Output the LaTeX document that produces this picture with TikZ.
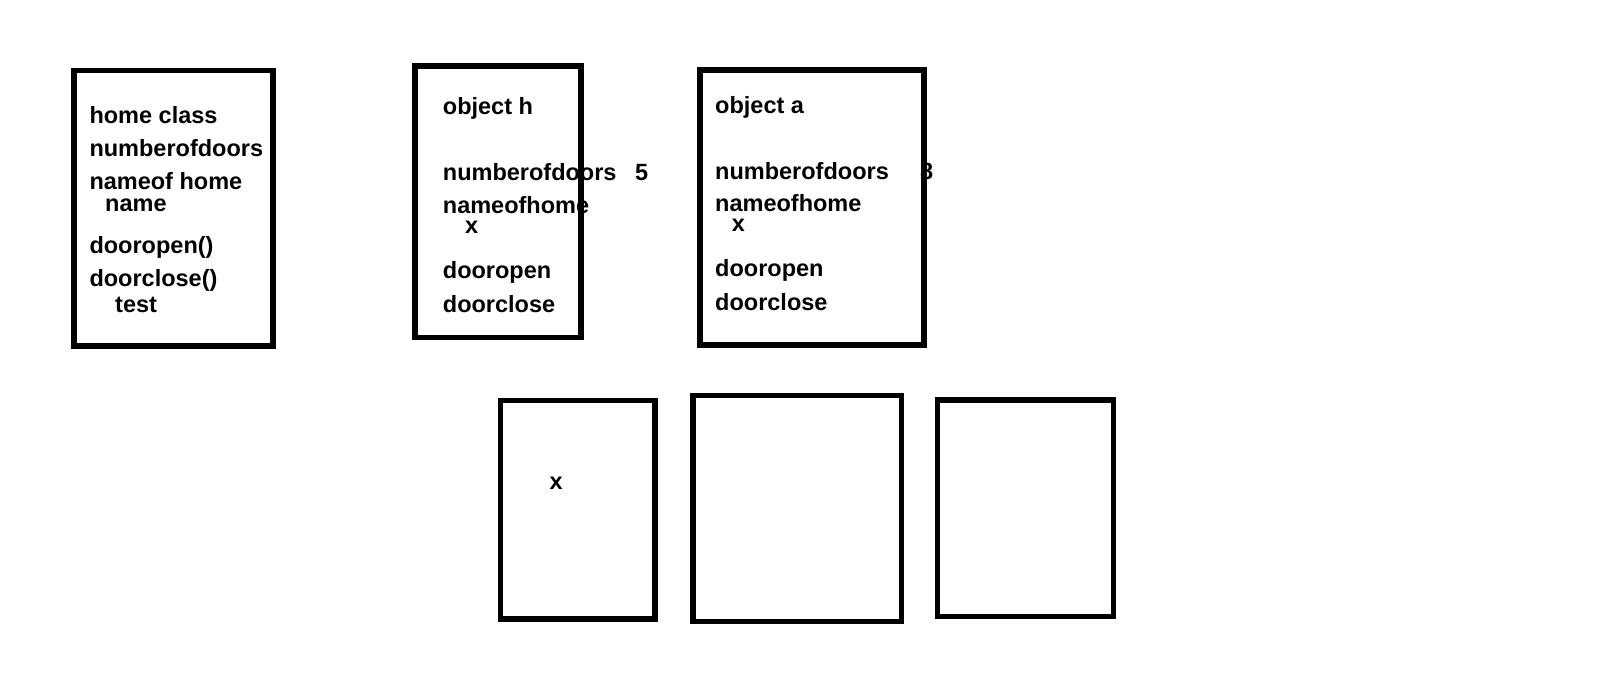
\documentclass[tikz,border=0pt]{standalone}
\usepackage{fontspec}
\setmainfont{Liberation Sans}
\usepackage{tikz}
\usetikzlibrary{backgrounds}

\begin{document}
\begin{tikzpicture}[
    x=1pt, y=-1pt,
    card/.style={draw, line width=5.2pt, inner sep=0pt, outer sep=0pt, anchor=north west},
    field/.style={font=\fontsize{23.5}{28}\selectfont\bfseries, anchor=base west, inner sep=0pt},
  ]
    \useasboundingbox (0,0) rectangle (1602,695);

    % ---- frames ----
    \node[card, minimum width=199pt, minimum height=275.5pt] (homecls) at (74,70.5) {};
    \node[card, minimum width=166pt, minimum height=271.5pt] (objh) at ([xshift=142pt,yshift=4.5pt]homecls.north east) {};
    \node[card, minimum width=224pt, minimum height=275pt] (obja) at ([xshift=119pt,yshift=-4pt]objh.north east) {};
    \node[card, minimum width=154.5pt, minimum height=218.5pt] (cellx) at ([xshift=85.5pt,yshift=-63pt]objh.south west) {};
    \node[card, minimum width=208.7pt, minimum height=226.2pt] (cellb) at ([xshift=38pt,yshift=5pt]cellx.north east) {};
    \node[card, minimum width=176.3pt, minimum height=216.7pt] (cellc) at ([xshift=35.8pt,yshift=-4.5pt]cellb.north east) {};

    % ---- texts, the frames go over them ----
    \begin{scope}[on background layer]
    % home class
    \node[field] (hc1) at ([xshift=15.3pt,yshift=-52.8pt]homecls.north west) {home class};
    \node[field] (hc2) at ([xshift=15.3pt,yshift=-86.2pt]homecls.north west) {numberofdoors};
    \node[field] (hc3) at ([xshift=15.3pt,yshift=-118.8pt]homecls.north west) {nameof home};
    \node[field] (hc4) at ([xshift=31pt,yshift=-141.2pt]homecls.north west) {name};
    \node[field] (hc5) at ([xshift=15.3pt,yshift=-183pt]homecls.north west) {dooropen()};
    \node[field] (hc6) at ([xshift=15.3pt,yshift=-216.2pt]homecls.north west) {doorclose()};
    \node[field] (hc7) at ([xshift=41pt,yshift=-241.8pt]homecls.north west) {test};

    % object h
    \node[field] (oh1) at ([xshift=27.7pt,yshift=-49pt]objh.north west) {object h};
    \node[field] (oh2) at ([xshift=27.7pt,yshift=-115pt]objh.north west) {numberofdoors};
    \node[field] (oh2v) at ([xshift=220pt,yshift=-115pt]objh.north west) {5};
    \node[field] (oh3) at ([xshift=27.7pt,yshift=-147.3pt]objh.north west) {nameofhome};
    \node[field] (oh3v) at ([xshift=50pt,yshift=-167.3pt]objh.north west) {x};
    \node[field] (oh4) at ([xshift=27.7pt,yshift=-212.8pt]objh.north west) {dooropen};
    \node[field] (oh5) at ([xshift=27.7pt,yshift=-246pt]objh.north west) {doorclose};

    % object a
    \node[field] (oa1) at ([xshift=15pt,yshift=-43.3pt]obja.north west) {object a};
    \node[field] (oa2) at ([xshift=15pt,yshift=-109.3pt]obja.north west) {numberofdoors};
    \node[field] (oa2v) at ([xshift=220pt,yshift=-109.3pt]obja.north west) {8};
    \node[field] (oa3) at ([xshift=15pt,yshift=-141.7pt]obja.north west) {nameofhome};
    \node[field] (oa3v) at ([xshift=31.7pt,yshift=-161.7pt]obja.north west) {x};
    \node[field] (oa4) at ([xshift=15pt,yshift=-206.7pt]obja.north west) {dooropen};
    \node[field] (oa5) at ([xshift=15pt,yshift=-240pt]obja.north west) {doorclose};

    % memory cell
    \node[field] (cx1) at ([xshift=48.8pt,yshift=-88.5pt]cellx.north west) {x};
    \end{scope}
  \end{tikzpicture}
\end{document}
